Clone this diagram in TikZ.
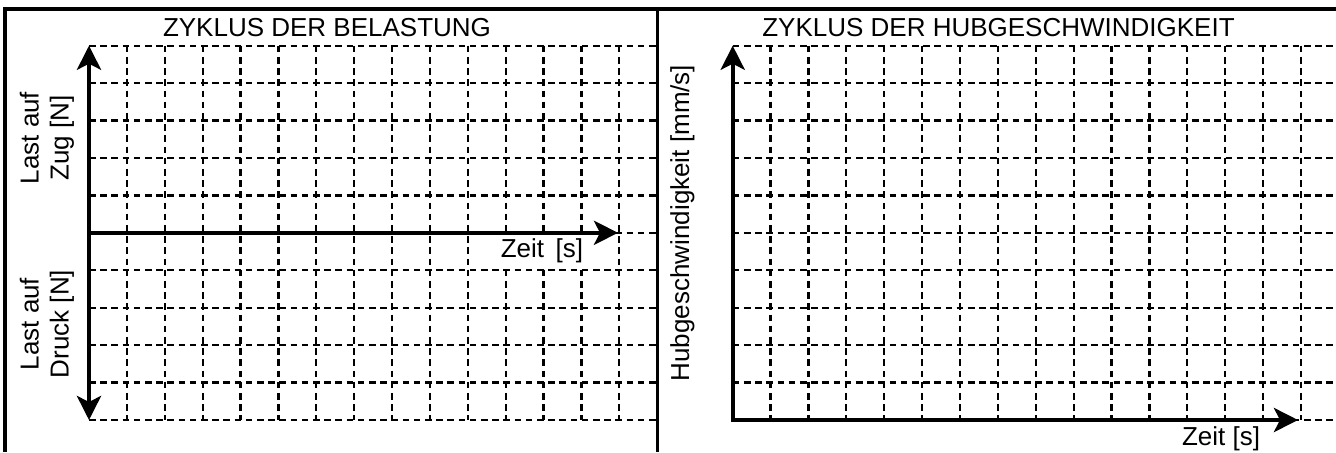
\documentclass[tikz,border=0pt]{standalone}
\usepackage{fontspec}
\setmainfont{Liberation Sans}
\usetikzlibrary{arrows.meta}

\begin{document}
\begin{tikzpicture}[x=0.5pt, y=-0.5pt,
  frame/.style={line width=1.7pt},
  axis/.style={line width=2.2pt},
  gridline/.style={line width=1.1pt, dash pattern=on 3.3pt off 2.3pt},
  label/.style={font=\fontsize{13}{15}\selectfont, inner sep=0pt},
  >={Stealth[length=12pt, width=12pt, inset=3pt]}]
\useasboundingbox (0,0) rectangle (1336,452);

% grid left: 15 x 10 cells
\foreach \k in {0,...,10} \draw [gridline] (89,45.7+\k*37.43) -- (657.3,45.7+\k*37.43);
\foreach \i in {1,...,14} \draw [gridline] (89+\i*37.88,45.7) -- (89+\i*37.88,420);
% grid right
\foreach \k in {0,...,10} \draw [gridline] (732.7,45.7+\k*37.43) -- (1336,45.7+\k*37.43);
\foreach \i in {1,...,15} \draw [gridline] (732.7+\i*37.88,45.7) -- (732.7+\i*37.88,420);

% frame
\draw [frame] (5,452) -- (5,9) -- (1336,9);
\draw [frame] (657.3,9) -- (657.3,452);

\node [label, fill=white, inner sep=2.5pt] (lblZeitL) at (542,251) {Zeit\, [s]};

% axes left
\coordinate (zugL) at (89,45.7);
\coordinate (druckL) at (89,420);
\coordinate (nullL) at (89,232.8);
\coordinate (zeitL) at (618,232.8);
\draw [axis, <->] (druckL) -- (zugL);
\draw [axis, ->] (nullL) -- (zeitL);

% axes right
\coordinate (hubR) at (732.7,45.7);
\coordinate (nullR) at (732.7,420);
\coordinate (zeitR) at (1298,420);
\draw [axis, <->] (hubR) -- (nullR) -- (zeitR);

\node [label] (titleL) at (327,27.5) {ZYKLUS DER BELASTUNG};
\node [label] (titleR) at (998.5,27.5) {ZYKLUS DER HUBGESCHWINDIGKEIT};
\node [label, rotate=90, align=center] (lblZug) at (47,138) {Last auf\\Zug [N]};
\node [label, rotate=90, align=center] (lblDruck) at (47,324) {Last auf\\Druck [N]};
\node [label, rotate=90] (lblHub) at (682.5,223) {Hubgeschwindigkeit [mm/s]};
\node [label] (lblZeitR) at (1221,438.5) {Zeit [s]};
\end{tikzpicture}
\end{document}
